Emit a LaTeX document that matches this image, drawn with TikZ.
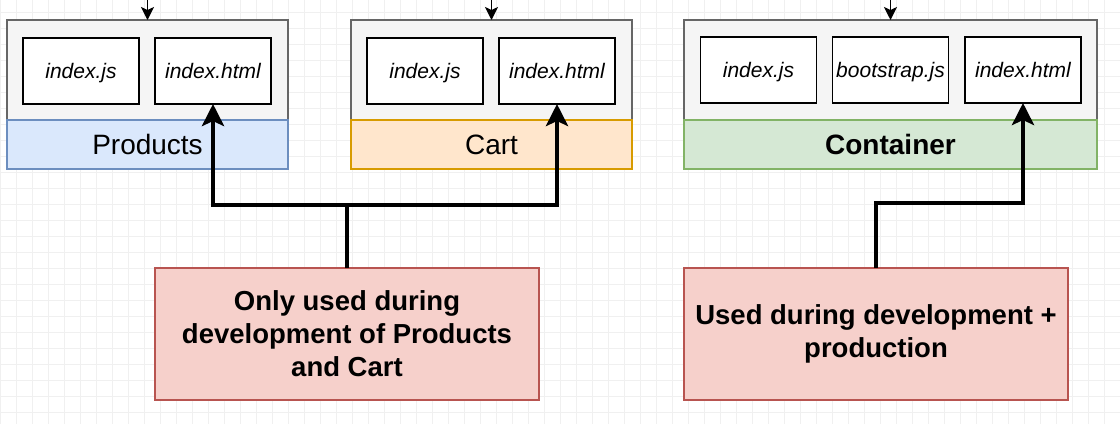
\documentclass[tikz,border=0pt]{standalone}
\usepackage{fontspec}
\setmainfont{Liberation Sans}
\usetikzlibrary{arrows.meta}

\definecolor{shellgray}{HTML}{F5F5F5}
\definecolor{shellline}{HTML}{666666}
\definecolor{bluefill}{HTML}{DAE8FC}
\definecolor{blueline}{HTML}{6C8EBF}
\definecolor{orangefill}{HTML}{FFE6CC}
\definecolor{orangeline}{HTML}{D79B00}
\definecolor{greenfill}{HTML}{D5E8D4}
\definecolor{greenline}{HTML}{82B366}
\definecolor{redfill}{HTML}{F6D0CB}
\definecolor{redline}{HTML}{B85450}
\definecolor{gridline}{HTML}{F0F0F0}

\begin{document}
\begin{tikzpicture}[x=1pt,y=-1pt,
    shell/.style={draw=shellline,fill=shellgray,line width=1.3pt,inner sep=0pt,outer sep=0pt,minimum height=100pt},
    band/.style={line width=1.3pt,inner sep=0pt,outer sep=0pt,minimum height=49pt,text height=20pt,text depth=1pt,font=\fontsize{28}{33}\selectfont},
    file/.style={draw=black,fill=white,line width=1.8pt,inner sep=0pt,outer sep=0pt,minimum width=116pt,minimum height=66pt,text height=15pt,text depth=1pt,font=\fontsize{21}{25}\selectfont\itshape},
    note/.style={draw=redline,fill=redfill,line width=1.3pt,inner sep=0pt,outer sep=0pt,minimum width=384pt,minimum height=132pt,align=center,font=\fontsize{27.5}{33}\selectfont\bfseries},
    link/.style={line width=4.5pt,-{Stealth[length=22pt,width=22pt,inset=5pt]}},
    feed/.style={line width=1.8pt,-{Stealth[length=13pt,width=13pt,inset=3pt]}}]
  \useasboundingbox (0,0) rectangle (1120,424);
  % background grid
  \fill[white] (0,0) rectangle (1120,424);
  \foreach \gx in {0,16,...,1120} \draw[gridline,line width=0.6pt] (\gx,0) -- (\gx,424);
  \foreach \gy in {12,28,...,424} \draw[gridline,line width=0.6pt] (0,\gy) -- (1120,\gy);

  % Products
  \node[shell,minimum width=281pt] (pshell) at (147.5,70) {};
  \node[band,fill=bluefill,draw=blueline,minimum width=281pt] (pband) at (147.5,144.5) {Products};
  \node[file] (pjs) at (81,71) {index.js};
  \node[file] (phtml) at (213,71) {index.html};

  % Cart
  \node[shell,minimum width=281pt] (cshell) at (491.5,70) {};
  \node[band,fill=orangefill,draw=orangeline,minimum width=281pt] (cband) at (491.5,144.5) {Cart};
  \node[file] (cjs) at (425,71) {index.js};
  \node[file] (chtml) at (557,71) {index.html};

  % Container
  \node[shell,minimum width=413pt] (kshell) at (890.5,70) {};
  \node[band,fill=greenfill,draw=greenline,minimum width=413pt,font=\fontsize{28}{33}\selectfont\bfseries] (kband) at (890.5,144.5) {Container};
  \node[file] (kjs) at (758.5,70) {index.js};
  \node[file] (kboot) at (890.5,70) {bootstrap.js};
  \node[file] (khtml) at (1023,70) {index.html};

  % notes
  \node[note] (dev) at (347,334) {Only used during\\development of Products\\and Cart};
  \node[note] (prod) at (876,334) {Used during development +\\production};

  % incoming from above
  \coordinate (ptop) at (147.5,0);
  \coordinate (ctop) at (491.5,0);
  \coordinate (ktop) at (890.5,0);
  \draw[feed] (ptop) -- (pshell.north);
  \draw[feed] (ctop) -- (cshell.north);
  \draw[feed] (ktop) -- (kshell.north);

  % connectors
  \coordinate (djoin) at (347,205);
  \coordinate (pjoin) at (876,203);
  \draw[line width=4.5pt] (dev.north) -- (djoin);
  \draw[link] (djoin) -| (phtml.south);
  \draw[link] (djoin) -| (chtml.south);
  \draw[link] (prod.north) -- (pjoin) -| (khtml.south);
\end{tikzpicture}
\end{document}
